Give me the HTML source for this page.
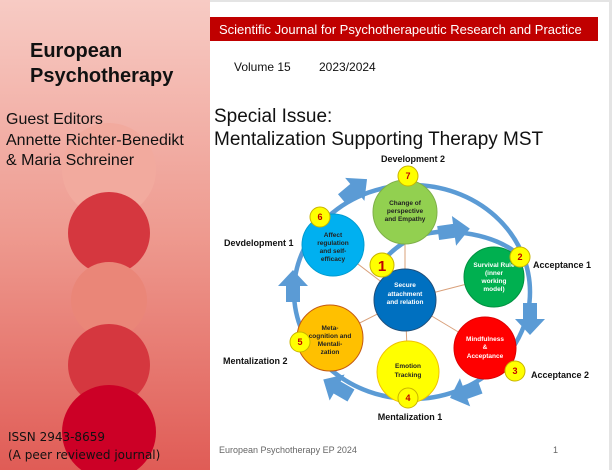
<!DOCTYPE html>
<html><head><meta charset="utf-8"><style>
html,body{margin:0;padding:0;width:612px;height:470px;overflow:hidden;background:#fff}
svg{display:block}
</style></head><body>
<svg width="612" height="470" viewBox="0 0 612 470" xmlns="http://www.w3.org/2000/svg" font-family="Liberation Sans, Arial, sans-serif">
<defs>
<linearGradient id="lg" x1="0" y1="0" x2="0" y2="1">
<stop offset="0" stop-color="#f7cbc4"/><stop offset="0.5" stop-color="#ee9a8f"/><stop offset="1" stop-color="#e05c56"/>
</linearGradient>
<polygon id="ar" points="-15,-7 1,-7 1,-15 17,0 1,15 1,7 -15,7" fill="#5b9bd5"/>
</defs>
<rect x="0" y="0" width="612" height="2" fill="#e4e4e4"/>
<rect x="609" y="0" width="3" height="470" fill="#e4e4e4"/>
<rect x="0" y="0" width="210" height="470" fill="url(#lg)"/>
<circle cx="109" cy="170" r="47" fill="#f2aa9e"/>
<circle cx="109" cy="233" r="41" fill="#d5373f"/>
<circle cx="109" cy="300" r="38" fill="#ea8678"/>
<circle cx="109" cy="365" r="41" fill="#d5373f"/>
<circle cx="109" cy="432" r="47" fill="#cc0026"/>
<text x="30" y="57" font-size="20" font-weight="bold" fill="#111">European</text>
<text x="30" y="82" font-size="20" font-weight="bold" fill="#111">Psychotherapy</text>
<text x="6" y="124" font-size="16" fill="#111">Guest Editors</text>
<text x="6" y="145" font-size="16" fill="#111">Annette Richter-Benedikt</text>
<text x="6" y="165" font-size="16" fill="#111">&amp; Maria Schreiner</text>
<text x="8" y="441" font-size="12" fill="#111" font-family="DejaVu Sans, sans-serif">ISSN 2943-8659</text>
<text x="8" y="459" font-size="12" fill="#111" font-family="DejaVu Sans, sans-serif">(A peer reviewed journal)</text>

<rect x="210" y="17" width="388" height="24" fill="#c00000"/>
<text x="219" y="34" font-size="13" fill="#fff">Scientific Journal for Psychotherapeutic Research and Practice</text>
<text x="234" y="71" font-size="12" fill="#111">Volume 15</text>
<text x="319" y="71" font-size="12" fill="#111">2023/2024</text>
<text x="214" y="122" font-size="19" fill="#111">Special Issue:</text>
<text x="214" y="145" font-size="19" fill="#111">Mentalization Supporting Therapy MST</text>

<ellipse cx="412" cy="292" rx="118" ry="107" fill="none" stroke="#5b9bd5" stroke-width="4.5"/>
<path d="M382 262 Q410 228 455 232 Q500 236 522 258" fill="none" stroke="#5b9bd5" stroke-width="4.5"/>
<g stroke="#d9a07a" stroke-width="1">
<line x1="405" y1="300" x2="405" y2="212"/><line x1="405" y1="300" x2="333" y2="245"/>
<line x1="405" y1="300" x2="494" y2="277"/><line x1="405" y1="300" x2="485" y2="348"/>
<line x1="405" y1="300" x2="408" y2="372"/><line x1="405" y1="300" x2="330" y2="338"/>
</g>
<use href="#ar" transform="translate(354,190) rotate(-40)"/>
<use href="#ar" transform="translate(453,231) rotate(-8)"/>
<use href="#ar" transform="translate(530,318) rotate(90)"/>
<use href="#ar" transform="translate(466,392) rotate(160)"/>
<use href="#ar" transform="translate(338,388) rotate(210)"/>
<use href="#ar" transform="translate(293,287) rotate(-90)"/>

<circle cx="405" cy="212" r="32" fill="#92d050" stroke="#7fb04a"/>
<circle cx="333" cy="245" r="31" fill="#00b0f0" stroke="#009bd0"/>
<circle cx="494" cy="277" r="30" fill="#00b050" stroke="#009040"/>
<circle cx="485" cy="348" r="31" fill="#ff0000" stroke="#d00"/>
<circle cx="408" cy="372" r="31" fill="#ffff00" stroke="#f0c000"/>
<circle cx="330" cy="338" r="33" fill="#ffc000" stroke="#c55a11"/>
<circle cx="405" cy="300" r="31" fill="#0070c0" stroke="#1f4e79"/>

<g font-size="6.5" font-weight="bold" text-anchor="middle" fill="#222">
<text x="405" y="205">Change of</text><text x="405" y="213">perspective</text><text x="405" y="221">and Empathy</text>
<text x="333" y="237">Affect</text><text x="333" y="245">regulation</text><text x="333" y="253">and self-</text><text x="333" y="261">efficacy</text>
<text x="330" y="330">Meta-</text><text x="330" y="338">cognition and</text><text x="330" y="346">Mentali-</text><text x="330" y="354">zation</text>
<text x="408" y="368">Emotion</text><text x="408" y="377">Tracking</text>
<g fill="#fff"><text x="405" y="287">Secure</text><text x="405" y="296">attachment</text><text x="405" y="304">and relation</text>
<text x="494" y="267">Survival Rule</text><text x="494" y="275">(inner</text><text x="494" y="283">working</text><text x="494" y="291">model)</text>
<text x="485" y="341">Mindfulness</text><text x="485" y="349">&amp;</text><text x="485" y="358">Acceptance</text></g>
</g>

<g fill="#ffff00" stroke="#c9b400" stroke-width="1">
<circle cx="408" cy="176" r="10"/><circle cx="320" cy="217" r="10"/><circle cx="382" cy="265" r="12"/>
<circle cx="520" cy="257" r="10"/><circle cx="515" cy="371" r="10"/><circle cx="408" cy="398" r="10"/><circle cx="300" cy="342" r="10"/>
</g>
<g font-size="9" font-weight="bold" fill="#c00000" text-anchor="middle">
<text x="408" y="179">7</text><text x="320" y="220">6</text><text x="382" y="271" font-size="15">1</text>
<text x="520" y="260">2</text><text x="515" y="374">3</text><text x="408" y="401">4</text><text x="300" y="345">5</text>
</g>

<g font-size="9" font-weight="bold" fill="#111">
<text x="413" y="162" text-anchor="middle">Development 2</text>
<text x="224" y="246">Devdelopment 1</text>
<text x="533" y="268">Acceptance 1</text>
<text x="531" y="378">Acceptance 2</text>
<text x="223" y="364">Mentalization 2</text>
<text x="410" y="420" text-anchor="middle">Mentalization 1</text>
</g>

<text x="219" y="453" font-size="9" fill="#666">European Psychotherapy EP 2024</text>
<text x="553" y="453" font-size="9" fill="#666">1</text>
</svg>
</body></html>
